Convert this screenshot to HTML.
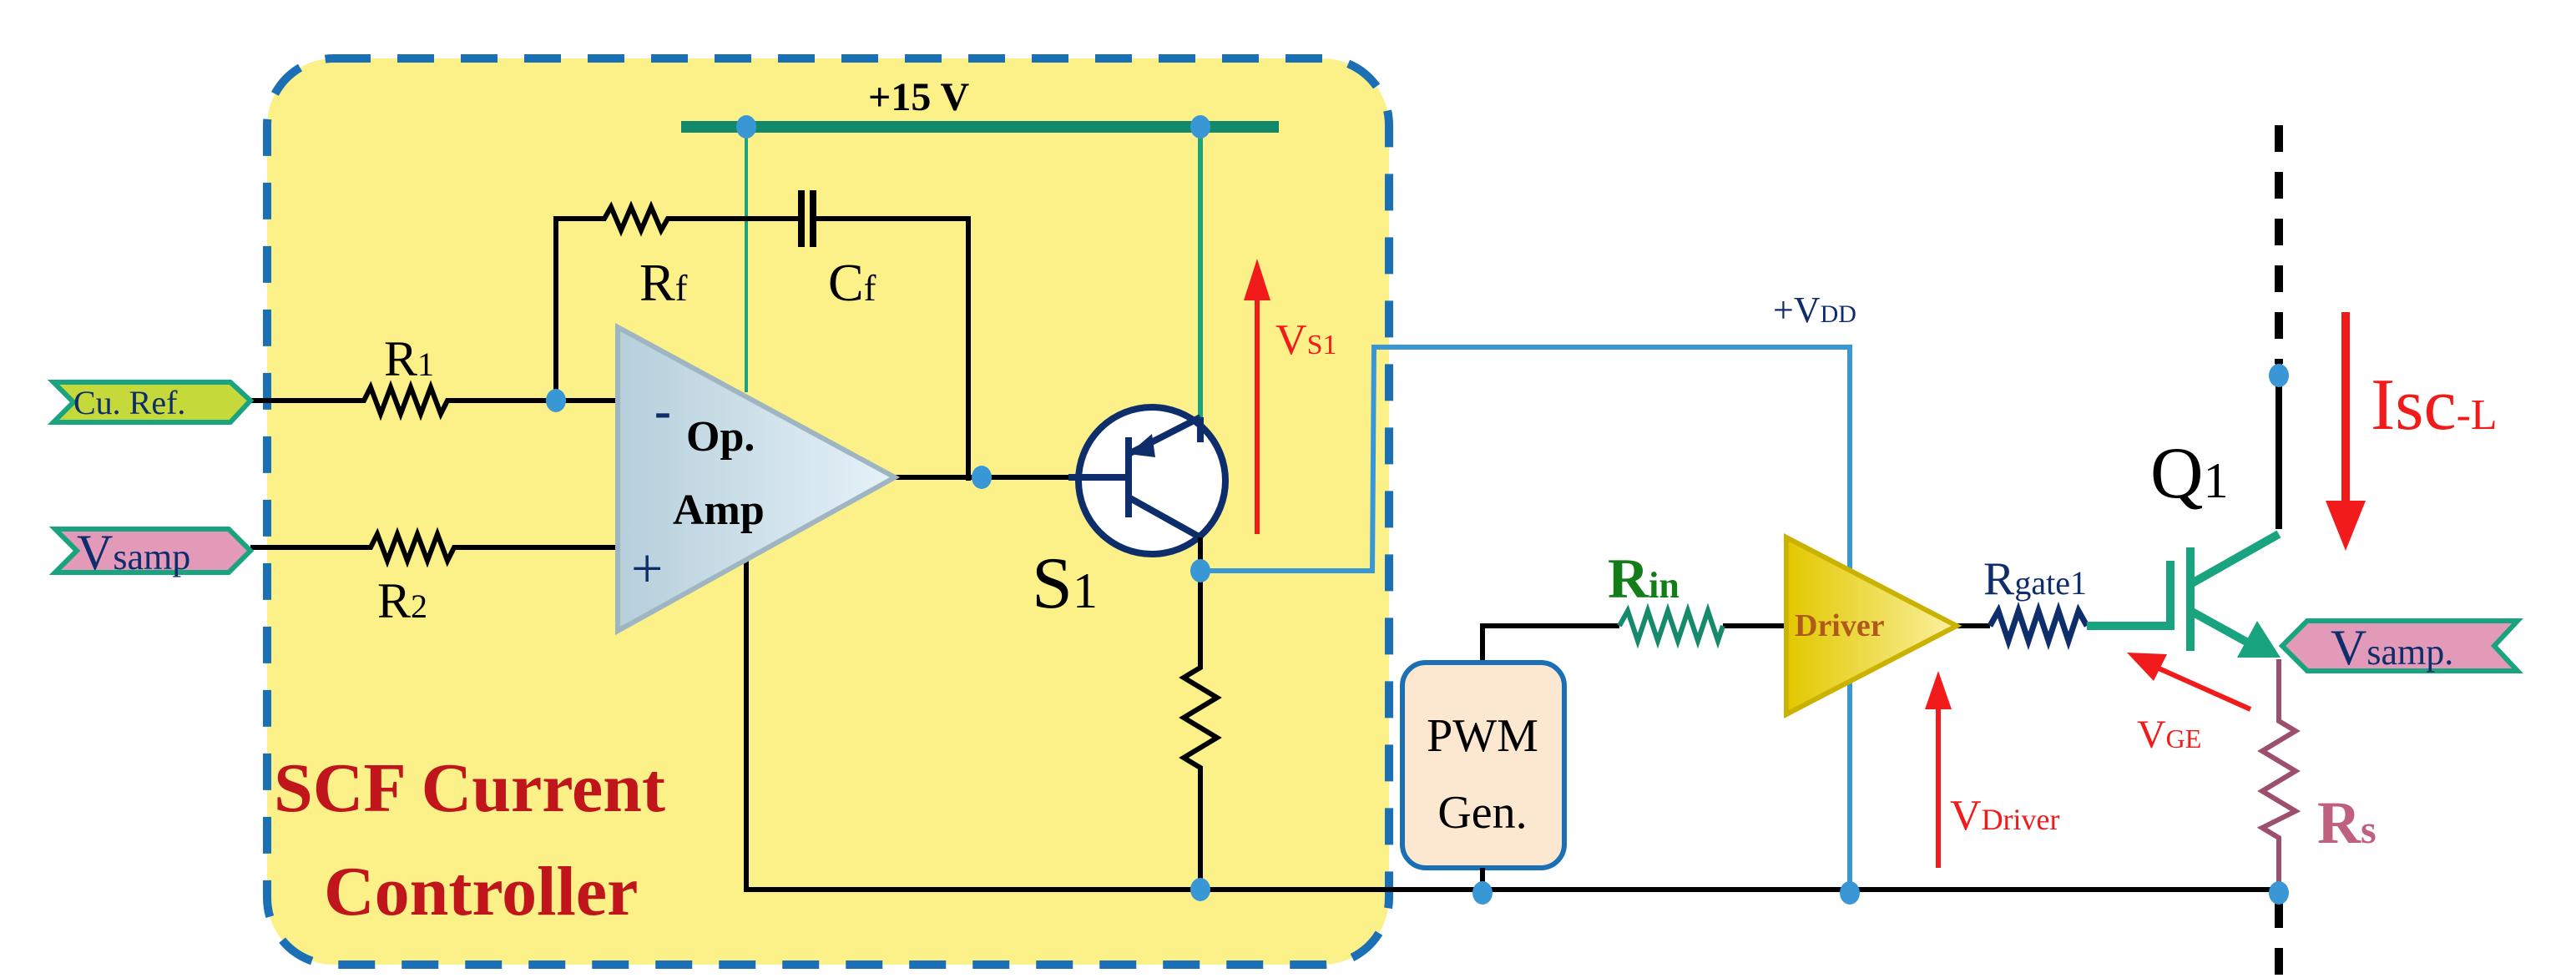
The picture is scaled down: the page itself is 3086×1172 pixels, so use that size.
<!DOCTYPE html>
<html><head><meta charset="utf-8"><style>
html,body{margin:0;padding:0;background:#fff}
svg{display:block}
text{font-family:"Liberation Serif",serif}
</style></head><body>
<svg width="3086" height="1172" viewBox="0 0 1543 586" xmlns="http://www.w3.org/2000/svg">
<defs>
<linearGradient id="oa" x1="0" x2="1"><stop offset="0" stop-color="#b6cfdb"/><stop offset="1" stop-color="#e6f2f8"/></linearGradient>
<linearGradient id="dr" x1="0" x2="1"><stop offset="0" stop-color="#e2c800"/><stop offset="1" stop-color="#fbf1a0"/></linearGradient>
</defs>
<rect x="160" y="35" width="672" height="543" rx="40" fill="#fbf188" stroke="#1a6fb5" stroke-width="5" stroke-dasharray="22,16"/>
<!-- +15V bar -->
<line x1="408" y1="76" x2="766" y2="76" stroke="#13896b" stroke-width="7"/>
<text x="520" y="66" font-size="24" font-weight="bold">+15 V</text>
<line x1="447" y1="76" x2="447" y2="235" stroke="#1aa37f" stroke-width="2"/>
<line x1="719" y1="76" x2="719" y2="265" stroke="#1aa37f" stroke-width="3"/>
<!-- feedback -->
<g fill="none" stroke="#000" stroke-width="3">
<polyline points="333,240 333,131 362,131 366,124 372,138 378,124 384,138 390,124 396,138 400,131 480,131"/>
<polyline points="487,131 580,131 580,288"/>
<line x1="480" y1="114" x2="480" y2="148" stroke-width="4"/>
<line x1="487" y1="114" x2="487" y2="148" stroke-width="4"/>
<!-- R1 line -->
<polyline points="150,240 218,240 222,232 228,248 234,232 240,248 246,232 252,248 258,232 264,248 268,240 370,240"/>
<polyline points="150,328 222,328 226,320 232,336 238,320 244,336 250,320 256,336 262,320 268,336 272,328 370,328"/>
<line x1="536" y1="286" x2="640" y2="286"/>
<polyline points="447,335 447,533 1365,533"/>
<polyline points="719,315 719,400 709,406 729,418 709,430 729,442 709,454 719,460 719,533"/>
<polyline points="888,397 888,375 970,375"/>
<line x1="1032" y1="375" x2="1070" y2="375"/>
<line x1="1172" y1="375" x2="1192" y2="375"/>
<line x1="1365" y1="218" x2="1365" y2="317" stroke-width="4"/>
<line x1="1365" y1="75" x2="1365" y2="218" stroke-width="5" stroke-dasharray="16,12"/>
<line x1="1365" y1="540" x2="1365" y2="586" stroke-width="5" stroke-dasharray="16,12"/>
</g>
<text x="383" y="180" font-size="32">R<tspan font-size="22">f</tspan></text>
<text x="496" y="180" font-size="32">C<tspan font-size="22">f</tspan></text>
<text x="230" y="225" font-size="30">R<tspan font-size="20">1</tspan></text>
<text x="226" y="370" font-size="30">R<tspan font-size="20">2</tspan></text>
<!-- tags -->
<polygon points="32,229 138,229 150,240 138,253 32,253 44,241" fill="#c5d93a" stroke="#1aa37f" stroke-width="3"/>
<text x="44" y="248" font-size="20" fill="#0d2d6b">Cu. Ref.</text>
<polygon points="33,317 137,317 150,330 137,343 33,343 46,330" fill="#e29ab8" stroke="#1aa37f" stroke-width="3"/>
<text x="46" y="341" font-size="30" fill="#0d2d6b">V<tspan font-size="22">samp</tspan></text>
<!-- op amp -->
<polygon points="370,196 536,286 370,378" fill="url(#oa)" stroke="#9fb6c2" stroke-width="3"/>
<text x="392" y="256" font-size="30" font-weight="bold" fill="#0d2d6b">-</text>
<text x="411" y="270" font-size="26" font-weight="bold">Op.</text>
<text x="403" y="314" font-size="26" font-weight="bold">Amp</text>
<text x="378" y="352" font-size="34" fill="#0d2d6b">+</text>
<!-- transistor S1 -->
<circle cx="690" cy="288" r="44" fill="#fff" stroke="#0d2d6b" stroke-width="4"/>
<g stroke="#0d2d6b" stroke-width="4" fill="none">
<line x1="640" y1="286" x2="676" y2="286"/>
<line x1="676" y1="262" x2="676" y2="310"/>
<line x1="676" y1="272" x2="719" y2="250"/>
<line x1="676" y1="298" x2="719" y2="322"/>
<line x1="719" y1="250" x2="719" y2="265"/>
</g>
<polygon points="676,272 690,260 692,274" fill="#0d2d6b"/>
<line x1="719" y1="322" x2="719" y2="342" stroke="#000" stroke-width="3"/>
<text x="618" y="364" font-size="44">S<tspan font-size="30">1</tspan></text>
<!-- VS1 -->
<line x1="753" y1="320" x2="753" y2="175" stroke="#f21b1b" stroke-width="3"/>
<polygon points="745,180 753,155 761,180" fill="#f21b1b"/>
<text x="764" y="212" font-size="26" fill="#f21b1b">V<tspan font-size="17">S1</tspan></text>
<!-- VDD blue line -->
<polyline points="719,342 822,342 823,208 1108,208 1108,535" fill="none" stroke="#3a97d6" stroke-width="3"/>
<text x="1062" y="193" font-size="22" fill="#0d2d6b">+V<tspan font-size="15">DD</tspan></text>
<!-- PWM -->
<rect x="840" y="397" width="97" height="123" rx="14" fill="#fce8d0" stroke="#1a6fb5" stroke-width="3"/>
<text x="888" y="450" font-size="28" text-anchor="middle">PWM</text>
<text x="888" y="496" font-size="28" text-anchor="middle">Gen.</text>
<line x1="888" y1="520" x2="888" y2="533" stroke="#000" stroke-width="3"/>
<!-- Rin -->
<polyline points="970,375 975,366 981,384 987,366 993,384 999,366 1005,384 1011,366 1017,384 1023,366 1029,384 1032,375" fill="none" stroke="#168a6b" stroke-width="3"/>
<text x="963" y="358" font-size="34" font-weight="bold" fill="#137d1a">R<tspan font-size="22">in</tspan></text>
<!-- Driver -->
<polygon points="1070,322 1172,375 1070,428" fill="url(#dr)" stroke="#c9b200" stroke-width="3"/>
<text x="1075" y="381" font-size="19" font-weight="bold" fill="#b05a1a">Driver</text>
<!-- Rgate -->
<polyline points="1192,375 1197,366 1203,384 1209,366 1215,384 1221,366 1227,384 1233,366 1239,384 1245,366 1250,375" fill="none" stroke="#0d2d6b" stroke-width="3.5"/>
<text x="1188" y="356" font-size="28" fill="#0d2d6b">R<tspan font-size="20">gate1</tspan></text>
<!-- IGBT -->
<g stroke="#1aa37f" stroke-width="5" fill="none">
<polyline points="1250,375 1300,375 1300,336"/>
<line x1="1312" y1="328" x2="1312" y2="390"/>
<line x1="1312" y1="350" x2="1365" y2="320"/>
<line x1="1312" y1="366" x2="1350" y2="387"/>
</g>
<polygon points="1340,394 1366,394 1352,372" fill="#1aa37f"/>
<text x="1288" y="298" font-size="44">Q<tspan font-size="30">1</tspan></text>
<!-- Isc -->
<line x1="1405" y1="187" x2="1405" y2="305" stroke="#f21b1b" stroke-width="5"/>
<polygon points="1393,300 1417,300 1405,330" fill="#f21b1b"/>
<text x="1420" y="257" font-size="44" fill="#f21b1b">Isc<tspan font-size="26">-L</tspan></text>
<!-- Vsamp. right -->
<polygon points="1367,387 1382,372 1508,372 1494,387 1508,402 1382,402" fill="#e29ab8" stroke="#1aa37f" stroke-width="3"/>
<text x="1396" y="398" font-size="30" fill="#0d2d6b">V<tspan font-size="22">samp.</tspan></text>
<!-- Rs -->
<polyline points="1365,395 1365,432 1375,438 1355,450 1375,462 1355,474 1375,486 1355,496 1365,502 1365,535" fill="none" stroke="#9c4f6e" stroke-width="3"/>
<text x="1388" y="505" font-size="36" font-weight="bold" fill="#c0607f">R<tspan font-size="24">s</tspan></text>
<!-- VGE -->
<line x1="1348" y1="425" x2="1292" y2="400" stroke="#f21b1b" stroke-width="3"/>
<polygon points="1274,391 1298,392 1290,408" fill="#f21b1b"/>
<text x="1280" y="448" font-size="24" fill="#f21b1b">V<tspan font-size="16">GE</tspan></text>
<!-- VDriver -->
<line x1="1161" y1="520" x2="1161" y2="420" stroke="#f21b1b" stroke-width="3"/>
<polygon points="1153,425 1161,402 1169,425" fill="#f21b1b"/>
<text x="1168" y="497" font-size="26" fill="#f21b1b">V<tspan font-size="18">Driver</tspan></text>
<!-- SCF label -->
<text x="164" y="486" font-size="42" font-weight="bold" fill="#c0161b">SCF Current</text>
<text x="194" y="548" font-size="42" font-weight="bold" fill="#c0161b">Controller</text>
<!-- dots -->
<g fill="#3a97d6">
<ellipse cx="447" cy="76" rx="6" ry="7"/><ellipse cx="719" cy="76" rx="6" ry="7"/>
<ellipse cx="333" cy="240" rx="6" ry="7"/><ellipse cx="588" cy="286" rx="6" ry="7"/>
<ellipse cx="719" cy="342" rx="6" ry="7"/><ellipse cx="719" cy="533" rx="6" ry="7"/>
<ellipse cx="888" cy="535" rx="6" ry="7"/><ellipse cx="1108" cy="535" rx="6" ry="7"/>
<ellipse cx="1365" cy="535" rx="6" ry="7"/><ellipse cx="1365" cy="225" rx="6" ry="7"/>
</g>
</svg>
</body></html>
